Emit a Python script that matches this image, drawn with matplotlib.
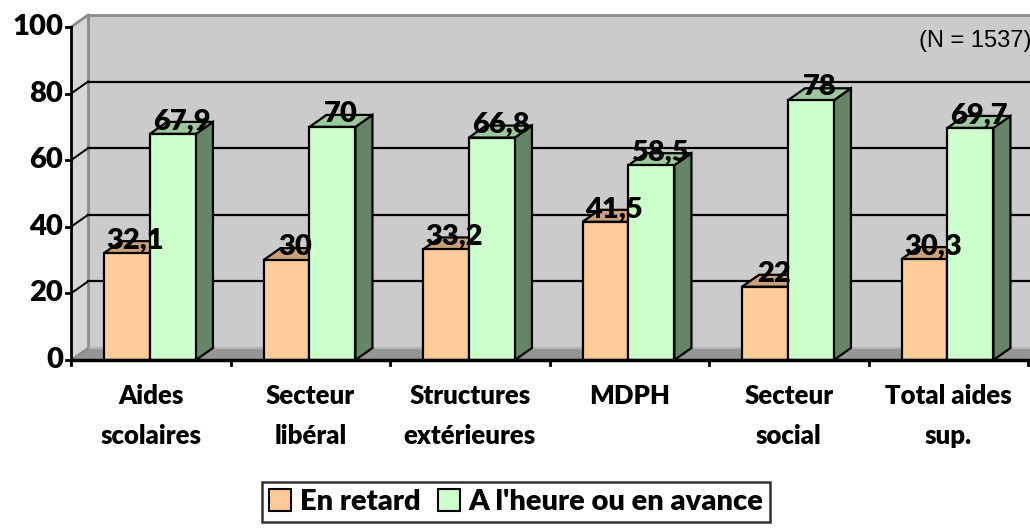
import matplotlib
matplotlib.use("Agg")
import matplotlib.pyplot as plt
from matplotlib.patches import Polygon, Patch

categories = ["Aides\nscolaires", "Secteur\nlibéral", "Structures\nextérieures",
              "MDPH", "Secteur\nsocial", "Total aides\nsup."]
en_retard = [32.1, 30, 33.2, 41.5, 22, 30.3]
a_lheure = [67.9, 70, 66.8, 58.5, 78, 69.7]
series_names = ["En retard", "A l'heure ou en avance"]
yticks = [0, 20, 40, 60, 80, 100]
note = "(N = 1537)"

FONT = ["Lato", "DejaVu Sans"]
plt.rcParams['font.family'] = FONT

W, H = 1030, 531
fig = plt.figure(figsize=(W / 100, H / 100), dpi=100)
x0, x1 = 71, 1028
ytop, ybot = 27, 360
ax = fig.add_axes([x0 / W, (H - ybot) / H, (x1 - x0) / W, (ybot - ytop) / H])
n = len(categories)
ax.set_xlim(0, n)
ax.set_ylim(0, 100)
ax.axis("off")

dx, dy = 0.107, 3.6
wall_c = "#CBCBCB"
side_c = "#D6D6D6"
floor_c = "#959595"
edge_c = "#8C8C8C"

ax.add_patch(Polygon([(dx, dy), (n + dx, dy), (n + dx, 100 + dy), (dx, 100 + dy)],
                     closed=True, facecolor=wall_c, edgecolor="none", clip_on=False, zorder=1))
ax.add_patch(Polygon([(0, 0), (dx, dy), (dx, 100 + dy), (0, 100)],
                     closed=True, facecolor=side_c, edgecolor="none", clip_on=False, zorder=1))
ax.add_patch(Polygon([(0, 0), (n, 0), (n + dx, dy), (dx, dy)],
                     closed=True, facecolor=floor_c, edgecolor="none", clip_on=False, zorder=1))
ax.plot([dx, n + dx], [100 + dy, 100 + dy], color=edge_c, lw=2, clip_on=False, zorder=2)
ax.plot([0, dx], [100, 100 + dy], color=edge_c, lw=2, clip_on=False, zorder=2)
ax.plot([dx, dx], [dy, 100 + dy], color=edge_c, lw=2, clip_on=False, zorder=2)
ax.plot([dx, n + dx], [dy, dy], color="#B5B5B5", lw=1.5, clip_on=False, zorder=2)
ax.plot([0, dx], [0, dy], color=edge_c, lw=1.5, clip_on=False, zorder=2)

for v in yticks[1:-1]:
    ax.plot([dx, n + dx], [v + dy, v + dy], color="black", lw=1.6, clip_on=False, zorder=2)
    ax.plot([0, dx], [v, v + dy], color="black", lw=1.4, clip_on=False, zorder=2)

bw = 0.288
off0 = 0.207
styles = [
    dict(front="#FFCC99", top="#C9A078", side="#A0805E"),
    dict(front="#CCFFCC", top="#9DC89D", side="#668466"),
]
for i in range(n):
    for s, vals in enumerate([en_retard, a_lheure]):
        v = vals[i]
        xl = i + off0 + s * bw
        xr = xl + bw
        st = styles[s]
        z = 3 + s
        ax.add_patch(Polygon([(xr, 0), (xr + dx, dy), (xr + dx, v + dy), (xr, v)],
                             closed=True, facecolor=st["side"], edgecolor="black",
                             lw=1.6, clip_on=False, zorder=z, joinstyle="miter"))
        ax.add_patch(Polygon([(xl, v), (xl + dx, v + dy), (xr + dx, v + dy), (xr, v)],
                             closed=True, facecolor=st["top"], edgecolor="black",
                             lw=1.6, clip_on=False, zorder=z, joinstyle="miter"))
        ax.add_patch(Polygon([(xl, 0), (xr, 0), (xr, v), (xl, v)],
                             closed=True, facecolor=st["front"], edgecolor="black",
                             lw=1.6, clip_on=False, zorder=z, joinstyle="miter"))
        lab = f"{v:g}".replace(".", ",")
        ax.text(xl + bw / 2 + dx / 2, v + 1.5, lab, ha="center", va="baseline",
                fontsize=21, fontweight="heavy", color="black", zorder=10, clip_on=False)

ax.plot([0, 0], [0, 100], color="black", lw=2, clip_on=False, zorder=6)
ax.plot([0, n], [0, 0], color="black", lw=2.5, clip_on=False, zorder=6)
tick_dx = 5 / 159.5
tick_dy = 5 / 3.33
for v in yticks:
    ax.plot([-tick_dx, 0], [v, v], color="black", lw=2, clip_on=False, zorder=6)
    ax.text(-8 / 159.5, v, str(v), ha="right", va="center", fontsize=21,
            fontweight="heavy", clip_on=False)
for i in range(n + 1):
    ax.plot([i, i], [0, -tick_dy], color="black", lw=2, clip_on=False, zorder=6)
for i, c in enumerate(categories):
    ax.text(i + 0.5, -7.1, c, ha="center", va="top", fontsize=18.5, fontweight="heavy",
            linespacing=1.8, clip_on=False)

ax.text(n + 0.02, 95.8, note, ha="right", va="center", fontsize=17,
        family=["Liberation Sans", "DejaVu Sans"], clip_on=False)

handles = [Patch(facecolor=styles[0]["front"], edgecolor="black", lw=1.5),
           Patch(facecolor=styles[1]["front"], edgecolor="black", lw=1.5)]
leg = fig.legend(handles, series_names, loc="center", bbox_to_anchor=(516 / W, 1 - 502 / H),
                 ncol=2, frameon=True, fancybox=False, edgecolor="black",
                 prop=dict(weight="heavy", size=21), handlelength=0.75, handleheight=0.75,
                 handletextpad=0.3, columnspacing=0.6, borderpad=0.25, borderaxespad=0)
leg.get_frame().set_linewidth(1.8)

fig.savefig("out.png", dpi=100, facecolor="white")
